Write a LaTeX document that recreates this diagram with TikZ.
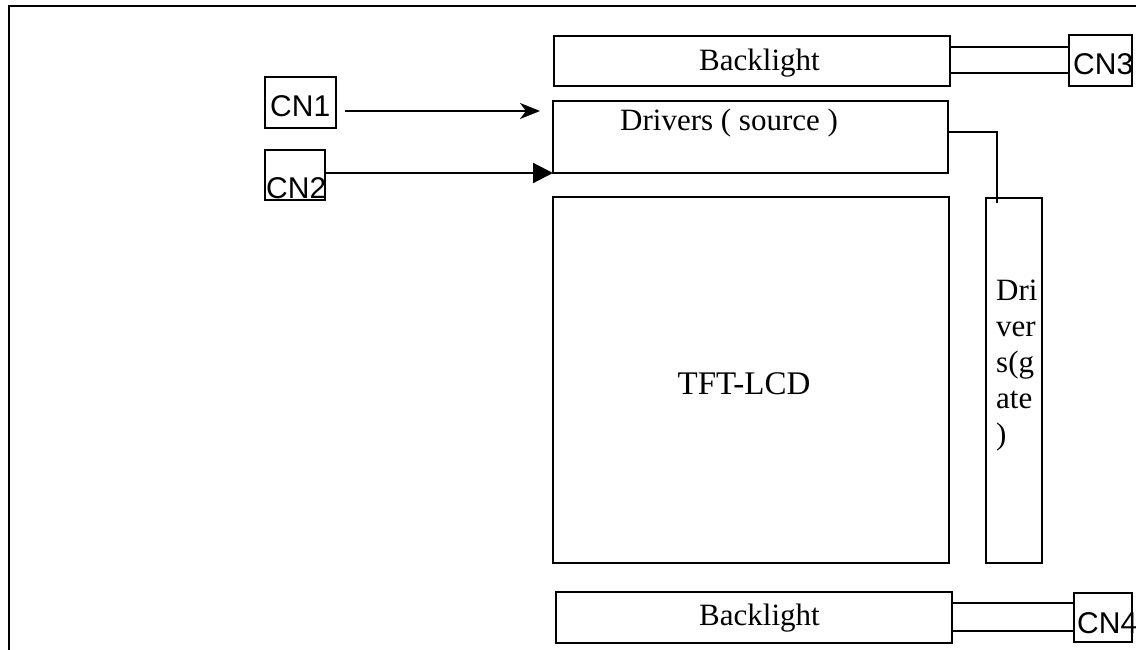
\documentclass[tikz,border=0pt]{standalone}
\usepackage{fontspec}
\setmainfont{Liberation Serif}
\newfontfamily\arialfont{Liberation Sans}
\usetikzlibrary{arrows.meta,calc}
\tikzset{
  box/.style={draw, line width=2.2pt, inner sep=0pt, outer sep=0pt},
  wire/.style={line width=2.2pt},
  serif/.style={inner sep=0pt, anchor=base west, font=\fontsize{31}{36}\selectfont},
  sans/.style={inner sep=0pt, anchor=base west, font=\arialfont\fontsize{30}{36}\selectfont},
  openarrow/.style={wire, -{Stealth[length=20pt,width=16pt,inset=6pt]}},
  fullarrow/.style={wire, -{Triangle[length=20pt,width=20pt]}}
}
\begin{document}
\begin{tikzpicture}[x=1pt,y=-1pt]
\useasboundingbox (0,0) rectangle (1136,650);
\fill[white] (0,0) rectangle (1136,650);
% outer frame
\draw[wire] (9,652) -- (9,6) -- (1140,6);
% boxes
\node[box, minimum width=396pt, minimum height=50pt] (bl1) at (752,61) {};
\node[box, minimum width=395pt, minimum height=72pt] (drv) at (750.5,137) {};
\node[box, minimum width=396pt, minimum height=366pt] (tft) at (751,380) {};
\node[box, minimum width=56pt, minimum height=365pt] (gate) at (1014,380.5) {};
\node[box, minimum width=396pt, minimum height=51pt] (bl2) at (754,617.5) {};
\node[box, minimum width=71pt, minimum height=51pt] (cn1) at (300.5,102.5) {};
\node[box, minimum width=60pt, minimum height=50pt] (cn2) at (295,175) {};
\node[box, minimum width=63pt, minimum height=51pt] (cn3) at (1100.5,60.5) {};
\node[box, minimum width=58pt, minimum height=49pt] (cn4) at (1103,617.5) {};
% texts
\node[serif] (tbl1) at (699,71) {Backlight};
\node[serif] (tdrv) at (620,131) {Drivers ( source )};
\node[serif, anchor=base, font=\fontsize{33}{36}\selectfont] (ttft) at (744,394) {TFT-LCD};
\node[serif] (tg1) at (996,300) {Dri};
\node[serif] (tg2) at (996,336) {ver};
\node[serif] (tg3) at (996,372) {s(g};
\node[serif] (tg4) at (996,408) {ate};
\node[serif] (tg5) at (996,444) {)};
\node[serif] (tbl2) at (699,625) {Backlight};
\node[sans] (tcn1) at (270,117) {CN1};
\node[sans] (tcn2) at (266,198) {CN2};
\node[sans] (tcn3) at (1073,75) {CN3};
\node[sans] (tcn4) at (1077,633) {CN4};
% connectors
\draw[openarrow, shorten <=9pt, shorten >=13pt] (cn1.east |- 0,111) -- (drv.west |- 0,111);
\draw[fullarrow] (cn2.east |- drv.south) -- (drv.south west);
\draw[wire] (bl1.east |- 0,47) -- (cn3.west |- 0,47);
\draw[wire] (bl1.east |- 0,73) -- (cn3.west |- 0,73);
\draw[wire] (bl2.east |- 0,603) -- (cn4.west |- 0,603);
\draw[wire] (bl2.east |- 0,631) -- (cn4.west |- 0,631);
\draw[wire] (drv.east |- 0,132) -| ($(gate.north west)+(11,5)$);
\end{tikzpicture}
\end{document}
